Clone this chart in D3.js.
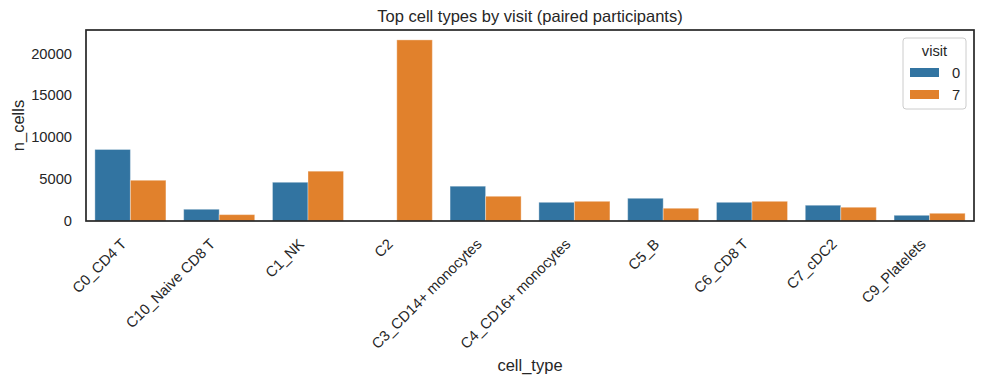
<!DOCTYPE html>
<html lang="en">
<head>
<meta charset="UTF-8">
<title>Top cell types by visit</title>
<script src="https://d3js.org/d3.v7.min.js"></script>
<style>
  body { margin: 0; background: #fff; }
  svg text { font-family: "Liberation Sans", Arial, sans-serif; fill: #262626; }
</style>
</head>
<body>
<svg id="chart" width="984" height="384"></svg>
<script>
// categories and series
const cellTypes = ["C0_CD4 T", "C10_Naive CD8 T", "C1_NK", "C2", "C3_CD14+ monocytes",
                   "C4_CD16+ monocytes", "C5_B", "C6_CD8 T", "C7_cDC2", "C9_Platelets"];
const visits = ["0", "7"];
const visit0 = [8530, 1400, 4620, 0, 4150, 2230, 2710, 2230, 1880, 680];
const visit7 = [4860, 760, 5940, 21600, 2950, 2350, 1520, 2350, 1640, 920];
const yTicks = [0, 5000, 10000, 15000, 20000];
const colors = { "0": "#3274a1", "7": "#e1812c" };

const svg = d3.select("#chart");
const margin = { top: 30, right: 10, bottom: 163, left: 86 };
const width = +svg.attr("width"), height = +svg.attr("height");
const x0 = margin.left, x1 = width - margin.right;
const yBottom = height - margin.bottom, yTop = margin.top;
const tickFont = "14.7px";

const rows = cellTypes.map((c, i) => ({ cell: c, "0": visit0[i], "7": visit7[i] }));

const x = d3.scaleBand().domain(cellTypes).range([x0, x1]).padding(0);
const xs = d3.scaleBand().domain(visits).range([0.1 * x.bandwidth(), 0.9 * x.bandwidth()]).padding(0);
const y = d3.scaleLinear().domain([0, 22780]).range([yBottom, yTop]);

// bars
const groups = svg.append("g").selectAll("g")
    .data(rows).enter().append("g")
    .attr("transform", d => `translate(${x(d.cell)},0)`);

groups.selectAll("rect")
    .data(d => visits.map(v => ({ v, val: d[v] })).filter(e => e.val > 0))
    .enter().append("rect")
    .attr("x", d => xs(d.v))
    .attr("width", xs.bandwidth())
    .attr("y", d => y(d.val))
    .attr("height", d => yBottom - y(d.val))
    .attr("fill", d => colors[d.v])
    .attr("stroke", "#ffffff")
    .attr("stroke-opacity", 0.35)
    .attr("stroke-width", 1);

// y axis tick labels
svg.append("g")
    .attr("transform", `translate(${x0},0)`)
    .call(d3.axisLeft(y).tickValues(yTicks).tickFormat(d3.format("d")).tickSize(0).tickPadding(14))
    .call(g => g.select(".domain").remove())
    .selectAll("text")
    .style("font-size", tickFont)
    .style("font-family", "'Liberation Sans', Arial, sans-serif")
    .attr("fill", "#262626");

// x axis tick labels (rotated)
const xAxis = svg.append("g")
    .attr("transform", `translate(0,${yBottom})`)
    .call(d3.axisBottom(x).tickSize(0).tickPadding(0));
xAxis.select(".domain").remove();
xAxis.selectAll("text")
    .style("font-size", tickFont)
    .style("font-family", "'Liberation Sans', Arial, sans-serif")
    .attr("fill", "#262626")
    .attr("text-anchor", "end")
    .attr("dy", null)
    .attr("y", 0)
    .attr("transform", "translate(-3,24) rotate(-45)");

// spines
svg.append("rect")
    .attr("x", x0).attr("y", yTop)
    .attr("width", x1 - x0).attr("height", yBottom - yTop)
    .attr("fill", "none")
    .attr("stroke", "#262626")
    .attr("stroke-width", 1.7);

// title and axis labels
svg.append("text")
    .attr("x", (x0 + x1) / 2).attr("y", 22)
    .attr("text-anchor", "middle")
    .style("font-size", "16.5px")
    .text("Top cell types by visit (paired participants)");

svg.append("text")
    .attr("x", (x0 + x1) / 2).attr("y", 371)
    .attr("text-anchor", "middle")
    .style("font-size", "16.5px")
    .text("cell_type");

svg.append("text")
    .attr("transform", `translate(24,${(yTop + yBottom) / 2}) rotate(-90)`)
    .attr("text-anchor", "middle")
    .style("font-size", "16.5px")
    .text("n_cells");

// legend
const lg = svg.append("g").attr("transform", "translate(903,38)");
lg.append("rect")
    .attr("width", 63).attr("height", 71).attr("rx", 3)
    .attr("fill", "#fff").attr("fill-opacity", 0.8)
    .attr("stroke", "#cccccc").attr("stroke-width", 1);
lg.append("text")
    .attr("x", 31.5).attr("y", 18)
    .attr("text-anchor", "middle")
    .style("font-size", tickFont)
    .text("visit");
visits.forEach((v, i) => {
    lg.append("rect")
        .attr("x", 7).attr("y", 30 + i * 22)
        .attr("width", 29).attr("height", 9)
        .attr("fill", colors[v]);
    lg.append("text")
        .attr("x", 49).attr("y", 40 + i * 22)
        .style("font-size", tickFont)
        .text(v);
});
</script>
</body>
</html>
